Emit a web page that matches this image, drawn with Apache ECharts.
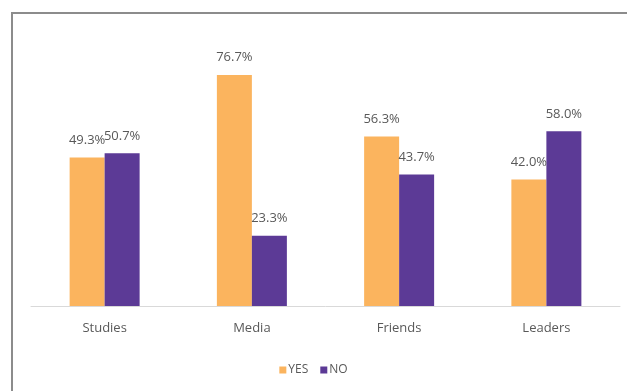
<!DOCTYPE html>
<html>
<head>
<meta charset="utf-8">
<script src="https://cdn.jsdelivr.net/npm/echarts@6/dist/echarts.min.js"></script>
<style>
  html, body { margin: 0; padding: 0; background: #fff; }
  #chart { width: 627px; height: 391px; }
</style>
</head>
<body>
<div id="chart"></div>
<script>
// Survey answers per source of information (percent)
const categories = ['Studies', 'Media', 'Friends', 'Leaders'];
const yesValues = [49.3, 76.7, 56.3, 42.0];
const noValues = [50.7, 23.3, 43.7, 58.0];
const seriesNames = ['YES', 'NO'];

const chart = echarts.init(document.getElementById('chart'));

const labelStyle = {
  show: true,
  position: 'top',
  distance: 11,
  color: '#595959',
  fontFamily: 'Open Sans',
  fontSize: 13,
  formatter: p => p.value.toFixed(1) + '%'
};

chart.setOption({
  animation: false,
  backgroundColor: '#fff',
  graphic: [{
    type: 'rect',
    shape: { x: 12, y: 13, width: 700, height: 500 },
    style: { fill: 'none', stroke: '#8c8c8c', lineWidth: 2 },
    silent: true
  }],
  legend: {
    data: seriesNames,
    bottom: 10,
    left: 'center',
    itemWidth: 7,
    itemHeight: 7,
    itemGap: 12,
    icon: 'rect',
    textStyle: { color: '#595959', fontFamily: 'Open Sans', fontSize: 12, padding: [0, 0, 0, -3] }
  },
  grid: { left: 31, right: 7, top: 35, bottom: 85 },
  xAxis: {
    type: 'category',
    data: categories,
    axisLine: { lineStyle: { color: '#d9d9d9', width: 1 } },
    axisTick: { show: false },
    axisLabel: { color: '#595959', fontFamily: 'Open Sans', fontSize: 13, margin: 16 }
  },
  yAxis: {
    type: 'value',
    min: 0,
    max: 90,
    show: false,
    splitLine: { show: false }
  },
  series: [
    {
      name: seriesNames[0],
      type: 'bar',
      data: yesValues,
      barWidth: 35,
      barGap: '0%',
      itemStyle: { color: '#FBB45E' },
      label: labelStyle
    },
    {
      name: seriesNames[1],
      type: 'bar',
      data: noValues,
      barWidth: 35,
      barGap: '0%',
      itemStyle: { color: '#5C3A96' },
      label: labelStyle
    }
  ]
});
</script>
</body>
</html>
